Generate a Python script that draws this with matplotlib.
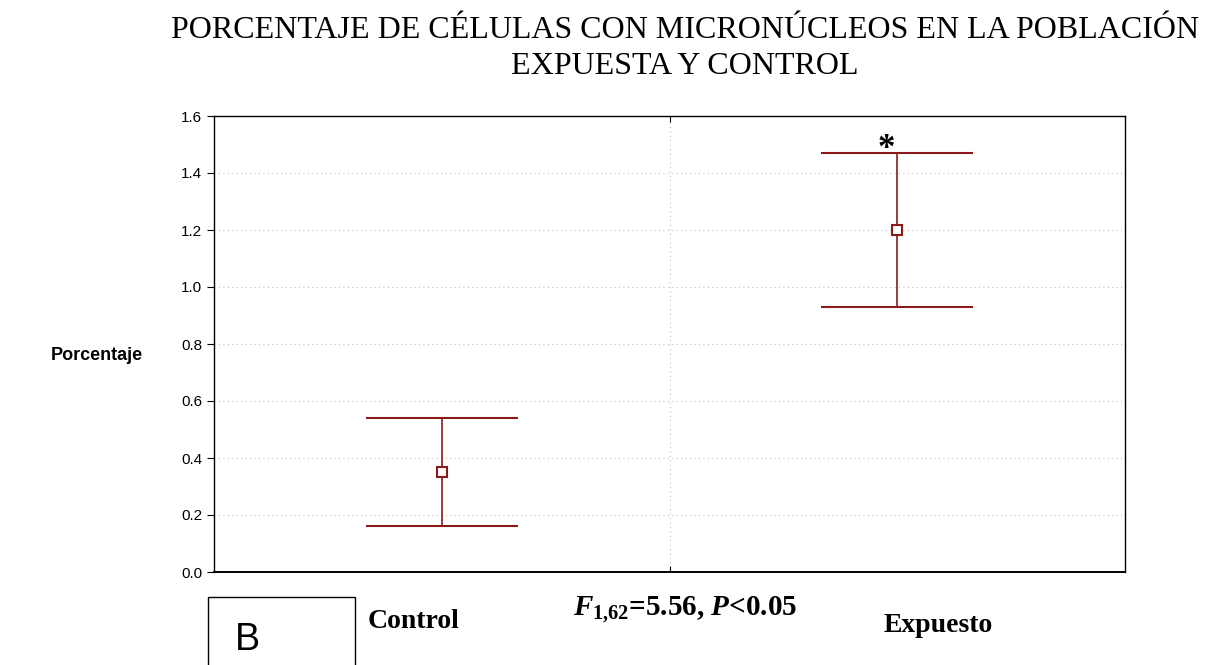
import matplotlib
matplotlib.use("Agg")
import matplotlib.pyplot as plt
from matplotlib.patches import Rectangle

plt.rcParams["mathtext.fontset"] = "custom"
plt.rcParams["mathtext.rm"] = "Liberation Serif:bold"
plt.rcParams["mathtext.it"] = "Liberation Serif:italic:bold"
plt.rcParams["mathtext.bf"] = "Liberation Serif:bold"

# Data
groups = ["Control", "Expuesto"]
means = [0.35, 1.20]
lower = [0.16, 0.93]
upper = [0.54, 1.47]
yticks = [0.0, 0.2, 0.4, 0.6, 0.8, 1.0, 1.2, 1.4, 1.6]

W, H = 1212, 665
fig = plt.figure(figsize=(W / 100, H / 100), dpi=100)
ax = fig.add_axes([214 / W, 1 - 572 / H, (1125 - 214) / W, (572 - 116) / H])

red = "#8b1a1a"
xpos = [0.5, 1.5]
for x, m, lo, hi in zip(xpos, means, lower, upper):
    ax.errorbar([x], [m], yerr=[[m - lo], [hi - m]], fmt="s", color=red,
                ecolor=red, elinewidth=1.2, capsize=55, capthick=1.3,
                markersize=7, markerfacecolor="white", markeredgecolor=red,
                markeredgewidth=1.5, zorder=3)

# significance mark above the exposed group
ax.text(xpos[1] - 0.025, upper[1] + 0.014, "*", ha="center", va="center",
        fontsize=25, fontweight="bold", family="Liberation Serif")

ax.set_xlim(0, 2)
ax.set_ylim(0, 1.6)
ax.set_yticks(yticks)
ax.set_yticklabels([f"{v:.1f}" for v in yticks], family="Liberation Sans",
                   fontsize=11)
ax.set_xticks([1.0])
ax.set_xticklabels([])
ax.tick_params(axis="x", direction="in", length=4, top=True, width=0.8)
ax.tick_params(axis="y", direction="out", length=5, width=0.8)
ax.grid(True, axis="both", linestyle=(0, (1, 3)), color="#bdbdbd", linewidth=0.8)
ax.set_axisbelow(True)
for s in ax.spines.values():
    s.set_linewidth(1.0)
    s.set_color("black")
ax.spines["bottom"].set_linewidth(1.4)

fig.text(97 / W, 1 - 355 / H, "Porcentaje", ha="center", va="center",
         family="Liberation Sans", fontweight="bold", fontsize=13)

fig.text(685 / W, 1 - 31 / H,
         "PORCENTAJE DE CÉLULAS CON MICRONÚCLEOS EN LA POBLACIÓN",
         ha="center", va="center", family="Liberation Serif", fontsize=23)
fig.text(685 / W, 1 - 66 / H, "EXPUESTA Y CONTROL",
         ha="center", va="center", family="Liberation Serif", fontsize=23)

fig.text(414 / W, 1 - 622 / H, "Control", ha="center", va="center",
         family="Liberation Serif", fontweight="bold", fontsize=20)
fig.text(938 / W, 1 - 626 / H, "Expuesto", ha="center", va="center",
         family="Liberation Serif", fontweight="bold", fontsize=20)
fig.text(685 / W, 1 - 610 / H,
         r"$\mathit{F}_{1{,}62}$=5.56, $\mathit{P}$<0.05",
         ha="center", va="center", family="Liberation Serif",
         fontweight="bold", fontsize=21)

fig.patches.append(Rectangle((208 / W, 1 - 668 / H), (355 - 208) / W,
                             (668 - 597) / H, transform=fig.transFigure,
                             fill=False, edgecolor="black", linewidth=1.0))
fig.text(247 / W, 1 - 640 / H, "B", ha="center", va="center",
         family="Liberation Sans", fontsize=27)

fig.savefig("out.png", dpi=100)
